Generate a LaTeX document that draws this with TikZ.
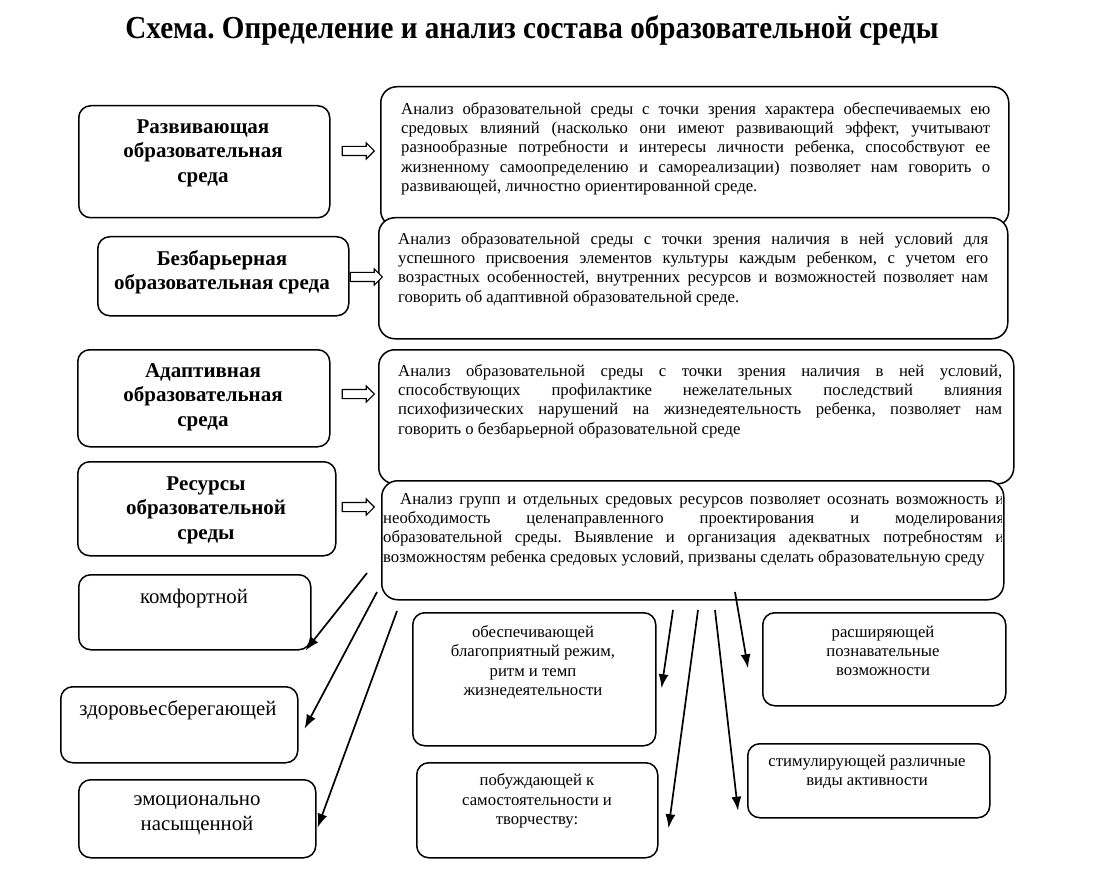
\documentclass[tikz,border=0pt]{standalone}
\usepackage{fontspec}
\setmainfont{Liberation Serif}
\usetikzlibrary{arrows.meta,shapes.arrows,positioning}
\frenchspacing

\begin{document}
\begin{tikzpicture}[x=1pt,y=-1pt,
  frame/.style={draw,line width=1.5pt,rounded corners=12pt,fill=white,inner sep=0pt,anchor=north west},
  headtxt/.style={font=\fontsize{21}{24.5}\selectfont\bfseries,align=center,inner sep=0pt},
  bodytxt/.style={font=\fontsize{16.7}{19.3}\selectfont,align=justify,inner sep=0pt,anchor=north west},
  smalltxt/.style={font=\fontsize{16.7}{19.3}\selectfont,align=center,inner sep=0pt},
  bigtxt/.style={font=\fontsize{20.8}{25}\selectfont,align=center,inner sep=0pt},
  hollow/.style={single arrow,draw,line width=1.1pt,fill=white,minimum width=15pt,minimum height=32pt,single arrow head extend=3.5pt,inner sep=4pt},
  link/.style={line width=1.7pt,-{Latex[length=14pt,width=10pt]}}
]

\fill[white] (0,0) rectangle (1117,869);

% title
\node[font=\fontsize{32}{34}\selectfont\bfseries] (title) at (532,30) {\scalebox{0.91}[1]{Схема. Определение и анализ состава образовательной среды}};

% left column
\node[frame,minimum width=251pt,minimum height=112pt] (razv) at (78,105) {};
\node[headtxt] at (203,153) {Развивающая\\образовательная\\среда};
\node[frame,minimum width=251pt,minimum height=79pt] (bezb) at (97,236) {};
\node[headtxt] at (222,272) {Безбарьерная\\образовательная среда};
\node[frame,minimum width=252pt,minimum height=97pt] (adap) at (77,349) {};
\node[headtxt] at (203,397) {Адаптивная\\образовательная\\среда};
\node[frame,minimum width=258pt,minimum height=94pt] (resu) at (77,461) {};
\node[headtxt] at (206,510) {Ресурсы\\образовательной\\среды};

% right column
\node[frame,rounded corners=16pt,minimum width=628pt,minimum height=140pt] (anrazv) at (380,86) {};
\node[bodytxt,text width=589pt] at (401,102) {Анализ образовательной среды с точки зрения характера обеспечиваемых ею \linebreak
средовых влияний (насколько они имеют развивающий эффект, учитывают \linebreak
разнообразные потребности и интересы личности ребенка, способствуют ее \linebreak
жизненному самоопределению и самореализации) позволяет нам говорить о \linebreak
развивающей, личностно ориентированной среде.};

\node[frame,rounded corners=16pt,minimum width=629pt,minimum height=121pt] (anbezb) at (378,217) {};
\node[bodytxt,text width=590pt] at (398,232) {Анализ образовательной среды с точки зрения наличия в ней условий для \linebreak
успешного присвоения элементов культуры каждым ребенком, с учетом его \linebreak
возрастных особенностей, внутренних ресурсов и возможностей позволяет нам \linebreak
говорить об адаптивной образовательной среде.};

\node[frame,rounded corners=16pt,minimum width=635pt,minimum height=134pt] (anadap) at (378,349) {};
\node[bodytxt,text width=604pt] at (398,364) {Анализ образовательной среды с точки зрения наличия в ней условий, \linebreak
способствующих профилактике нежелательных последствий влияния \linebreak
психофизических нарушений на жизнедеятельность ребенка, позволяет нам \linebreak
говорить о безбарьерной образовательной среде};

\node[frame,rounded corners=16pt,minimum width=622pt,minimum height=119pt] (anresu) at (381,480) {};
\begin{scope}
\clip (381,480) rectangle (1001,599);
\node[bodytxt,text width=621pt] at (383,493) {\hspace*{17pt}Анализ групп и отдельных средовых ресурсов позволяет осознать возможность и \linebreak
необходимость целенаправленного проектирования и моделирования \linebreak
образовательной среды. Выявление и организация адекватных потребностям и \linebreak
возможностям ребенка средовых условий, призваны сделать образовательную среду};
\end{scope}

% hollow arrows
\node[hollow] (h1) at (356,151) {};
\node[hollow] (h2) at (364,277) {};
\node[hollow] (h3) at (356,394) {};
\node[hollow] (h4) at (356,507) {};

% kinds of environment
\node[frame,minimum width=232pt,minimum height=75pt] (komf) at (78,574) {};
\node[bigtxt] at (194,598) {комфортной};
\node[frame,minimum width=237pt,minimum height=76pt] (zdor) at (60,686) {};
\node[bigtxt] at (178,710) {здоровьесберегающей};
\node[frame,minimum width=237pt,minimum height=78pt] (emoc) at (78,779) {};
\node[bigtxt] at (197,815) {эмоционально\\насыщенной};

\node[frame,minimum width=243pt,minimum height=133pt] (obesp) at (412,612) {};
\node[smalltxt] at (533,662) {обеспечивающей\\благоприятный режим,\\ритм и темп\\жизнедеятельности};
\node[frame,minimum width=241pt,minimum height=95pt] (pobu) at (416,762) {};
\node[smalltxt] at (537,801) {побуждающей к\\самостоятельности и\\творчеству:};
\node[frame,minimum width=243pt,minimum height=93pt] (rassh) at (762,612) {};
\node[smalltxt] at (883,651) {расширяющей\\познавательные\\возможности};
\node[frame,minimum width=242pt,minimum height=74pt] (stim) at (747,743) {};
\node[smalltxt] at (867,772) {стимулирующей различные\\виды активности};

% arrows from resources
\coordinate (s1) at (367,573);
\coordinate (s2) at (377,592);
\coordinate (s3) at (397,611);
\coordinate (s4) at (673,610);
\coordinate (s5) at (698,610);
\coordinate (s6) at (715,610);
\coordinate (s7) at (735,592);

\draw[link] (s1) -- ([xshift=-6pt]komf.south east);
\draw[link] (s2) -- ([xshift=6pt,yshift=-4pt]zdor.east);
\draw[link] (s3) -- ([xshift=1pt,yshift=-9pt]emoc.east);
\draw[link] (s4) -- ([xshift=5pt,yshift=-9pt]obesp.east);
\draw[link] (s5) -- ([xshift=10pt,yshift=-18pt]pobu.east);
\draw[link] (s6) -- ([xshift=-9pt,yshift=-30pt]stim.west);
\draw[link] (s7) -- ([xshift=-14pt,yshift=-9pt]rassh.west);

\end{tikzpicture}
\end{document}
